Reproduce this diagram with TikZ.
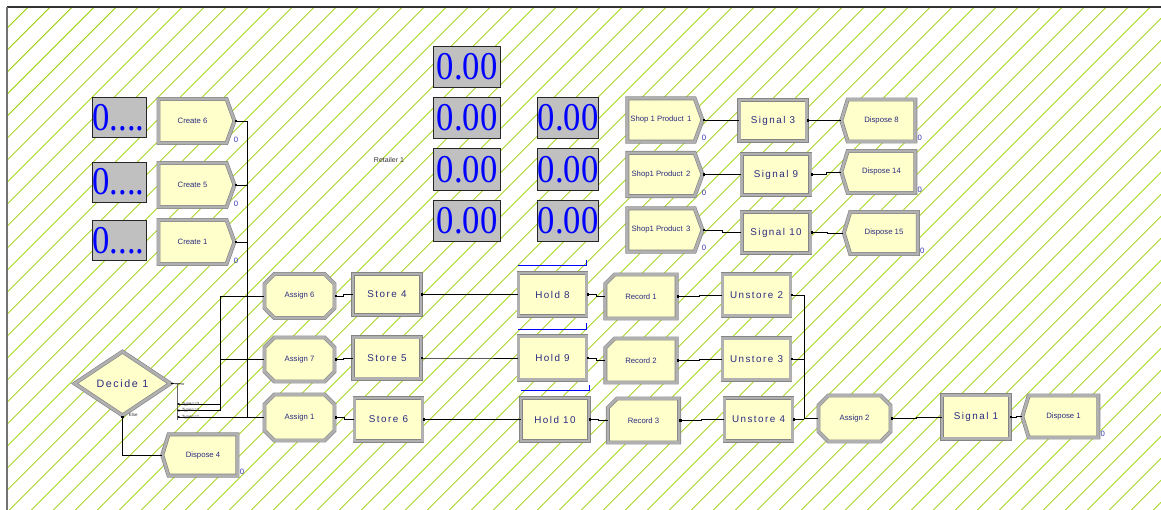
\documentclass[tikz,border=0pt]{standalone}
\usepackage{fontspec}
\setmainfont{Liberation Sans}
\newfontfamily\arenaser{Liberation Serif}
\newfontfamily\arenasp[LetterSpace=15]{Liberation Sans}
\usetikzlibrary{calc,arrows.meta,shapes.geometric,shapes.misc,shapes.symbols}
\definecolor{hatchc}{HTML}{99CC00}
\definecolor{modfill}{HTML}{FFFFCC}
\definecolor{modedge}{HTML}{858585}
\definecolor{modmid}{HTML}{B0B0B0}
\definecolor{modtext}{HTML}{2B2B80}
\definecolor{cntc}{HTML}{3535B0}
\definecolor{dispgray}{HTML}{C0C0C0}
\tikzset{
  mod/.style={draw=modedge,double=modmid,double distance=1.9pt,line width=0.45pt,fill=modfill,text=modtext,inner sep=1pt},
  small/.style={font=\fontsize{5.5}{6}\selectfont},
  spaced/.style={font=\arenasp\fontsize{7}{8}\selectfont},
  box/.style={mod,spaced,rectangle,minimum width=1.7cm,minimum height=1.03cm},
  create/.style={mod,small,signal,signal to=east,signal pointer angle=140,minimum width=1.9cm,minimum height=1.1cm},
  dispose/.style={mod,small,signal,signal to=west,signal pointer angle=146,minimum width=1.85cm,minimum height=1.05cm},
  assign/.style={mod,small,chamfered rectangle,chamfered rectangle xsep=0.16cm,minimum width=1.75cm,minimum height=1.1cm},
  record/.style={mod,small,chamfered rectangle,chamfered rectangle corners=north west,chamfered rectangle xsep=0.16cm,minimum width=1.78cm,minimum height=1.1cm},
  decide/.style={mod,diamond,minimum width=2.4cm,minimum height=1.6cm,inner sep=0pt,font=\arenasp\fontsize{7.6}{8}\selectfont},
  disp/.style={draw=black!85,line width=0.6pt,fill=dispgray,text=blue,inner sep=0pt,font=\arenaser\fontsize{28}{28}\selectfont},
  link/.style={draw=black,line width=0.5pt,{Square[length=1.3pt,width=1.6pt]}-},
  dexit/.style={draw=black,line width=0.5pt,{Latex[length=1.6pt,width=1.8pt]}-},
  cnt/.style={text=cntc,font=\fontsize{5.5}{6}\selectfont,inner sep=0.5pt,anchor=south west},
  tinylab/.style={text=black!80,font=\fontsize{3.2}{3.5}\selectfont,inner sep=0.3pt},
  holdbar/.style={draw=blue,line width=0.5pt},
  hatch/.style={hatchc,line width=0.55pt}
}
\begin{document}
\begin{tikzpicture}[x=0.025cm,y=-0.025cm]
\useasboundingbox (0,0) rectangle (1161,510);
% background
\begin{scope}
  \clip (7,7) rectangle (1161,510);
  \foreach \k in {-1,...,75}
    \draw[hatch] ({35.3+22*\k+20},-20) -- ++(-580,580);
\end{scope}
\draw[black!80,line width=0.8pt] (7,7) -- (1161,7);
\draw[black!55,line width=1.2pt] (7,7) -- (7,510);

% creates and their counters
\node[create] (create6) at (192.5,121) {Create 6};
\node[create] (create5) at (192.5,185) {Create 5};
\node[create] (create1) at (192.5,242) {Create 1};
\node[disp,minimum width=1.35cm,minimum height=1cm,text width=1.35cm,align=left] (q6) at (119.5,117.5) {\scalebox{0.88}[1]{0....}};
\node[disp,minimum width=1.35cm,minimum height=1cm,text width=1.35cm,align=left] (q5) at (119.5,182) {\scalebox{0.88}[1]{0....}};
\node[disp,minimum width=1.35cm,minimum height=1cm,text width=1.35cm,align=left] (q1) at (119.5,240.5) {\scalebox{0.88}[1]{0....}};

% retailer variables
\node[tinylab,font=\fontsize{5}{6}\selectfont] (retail) at (389,160) {Retailer 1};
\node[disp,minimum width=1.68cm,minimum height=1.03cm] (v1) at (467,67) {\scalebox{0.88}[1]{0.00}};
\node[disp,minimum width=1.68cm,minimum height=1.03cm] (v2) at (467,118) {\scalebox{0.88}[1]{0.00}};
\node[disp,minimum width=1.68cm,minimum height=1.03cm] (v3) at (467,169.5) {\scalebox{0.88}[1]{0.00}};
\node[disp,minimum width=1.68cm,minimum height=1.03cm] (v4) at (467,221) {\scalebox{0.88}[1]{0.00}};
\node[disp,minimum width=1.53cm,minimum height=1.03cm] (w2) at (568,118) {\scalebox{0.88}[1]{0.00}};
\node[disp,minimum width=1.53cm,minimum height=1.03cm] (w3) at (568,169.5) {\scalebox{0.88}[1]{0.00}};
\node[disp,minimum width=1.53cm,minimum height=1.03cm] (w4) at (568,221) {\scalebox{0.88}[1]{0.00}};

% shops
\node[create,minimum width=1.88cm,minimum height=1.08cm] (shop1) at (661,120) {Shop 1 Product\, 1};
\node[create,minimum width=1.88cm,minimum height=1.08cm] (shop2) at (661,174.5) {Shop1 Product\, 2};
\node[create,minimum width=1.88cm,minimum height=1.08cm] (shop3) at (661,230) {Shop1 Product\, 3};
\node[box,minimum width=1.68cm] (sig3) at (773,120.5) {Signal 3};
\node[box,minimum width=1.72cm] (sig9) at (776,174.5) {Signal 9};
\node[box,minimum width=1.72cm] (sig10) at (776,232.5) {Signal 10};
\node[dispose] (disp8) at (881.5,120.5) {Dispose 8};
\node[dispose] (disp14) at (881.5,172) {Dispose 14};
\node[dispose] (disp15) at (884,233) {Dispose 15};

% main rows
\node[assign] (assign6) at (299.5,296) {Assign 6};
\node[assign] (assign7) at (299.5,359.5) {Assign 7};
\node[assign,minimum height=1.15cm] (assign1) at (299.5,417.5) {Assign 1};
\node[box] (store4) at (387,294.5) {Store 4};
\node[box] (store5) at (387,358) {Store 5};
\node[box,minimum height=1.08cm] (store6) at (388.5,419.5) {Store 6};
\node[box,minimum height=1.08cm] (hold8) at (552.5,294.5) {Hold 8};
\node[box,minimum height=1.08cm] (hold9) at (552.5,358) {Hold 9};
\node[box,minimum height=1.08cm] (hold10) at (555,419.5) {Hold 10};
\node[record] (rec1) at (641,296.5) {Record 1};
\node[record] (rec2) at (641,360.5) {Record 2};
\node[record] (rec3) at (643.5,420.5) {Record 3};
\node[box] (unstore2) at (756.5,295) {Unstore 2};
\node[box] (unstore3) at (756.5,359) {Unstore 3};
\node[box,minimum height=1.08cm] (unstore4) at (758.5,419.5) {Unstore 4};
\node[assign,minimum width=1.8cm,minimum height=1.15cm] (assign2) at (854.5,418.5) {Assign 2};
\node[box,minimum height=1.08cm] (sig1) at (976,417) {Signal 1};
\node[dispose,minimum width=1.9cm] (disp1) at (1063.5,416.5) {Dispose 1};

% decide
\node[decide] (decide) at (122.5,383.5) {Decide 1};
\node[dispose,minimum width=1.88cm,minimum height=1.03cm] (disp4) at (203,455) {Dispose 4};

% counters
\foreach \m in {create6,create5,create1,shop1,shop2,shop3}
  \node[cnt] (\m-c) at ($(\m.east |- \m.south)+(-2,0)$) {0};
\foreach \m in {disp8,disp14,disp15,disp1,disp4}
  \node[cnt] (\m-c) at ($(\m.east |- \m.south)+(1,0)$) {0};

% hold queues
\foreach \h in {hold8,hold9,hold10}
  \draw[holdbar] ($(\h.north west)+(0,-7)$) -- ($(\h.north east)+(0,-7)$) -- ++(0,-6);

% connectors
\coordinate (busA) at (247,0);
\coordinate (busB) at (220,0);
\coordinate (busC) at (804,0);
\coordinate (ex3) at (177,404);
\coordinate (ex2) at (177,410.5);
\coordinate (ex1) at (177,417);
\coordinate (dstub) at (184,384);

\draw[link] (create6.east) -- (create6.east -| busA) |- (assign1.west);
\draw[link] (create5.east) -- (create5.east -| busA);
\draw[link] (create1.east) -- (create1.east -| busA);

\draw[black,line width=0.5pt] (decide.east) -- (dstub);
\draw[black!60,line width=0.5pt] (decide.east -| ex3) -- ([yshift=-2]ex1);
\draw[dexit] (ex3) -- (ex3 -| busB) |- (assign6.west);
\draw[dexit] (ex2) -- (ex2 -| busB) |- (assign7.west);
\draw[dexit] (ex1) -- (ex1 -| assign1.west);
\node[tinylab,anchor=west] (t3) at ([xshift=3]ex3) {Type==3};
\node[tinylab,anchor=west] (t2) at ([xshift=3]ex2) {Type==2};
\node[tinylab,anchor=west] (t1) at ([xshift=3]ex1) {Type==1};
\draw[link] (decide.south) |- (disp4.west);
\node[tinylab,anchor=north west] (elselab) at ([xshift=4,yshift=2]decide.south) {Else};

\foreach \a/\b in {assign6/store4,store4/hold8,hold8/rec1,rec1/unstore2,
                   assign7/store5,store5/hold9,hold9/rec2,rec2/unstore3,
                   assign1/store6,store6/hold10,hold10/rec3,rec3/unstore4,
                   assign2/sig1,sig1/disp1,
                   shop1/sig3,sig3/disp8,shop2/sig9,sig9/disp14,shop3/sig10,sig10/disp15}
  \draw[link] (\a.east) -| ($(\a.east)!.5!(\b.west)$) |- (\b.west);

\draw[link] (unstore2.east) -- (unstore2.east -| busC) |- (assign2.west);
\draw[link] (unstore3.east) -- (unstore3.east -| busC);
\draw[link] (unstore4.east) -- (unstore4.east -| busC);
\end{tikzpicture}
\end{document}
